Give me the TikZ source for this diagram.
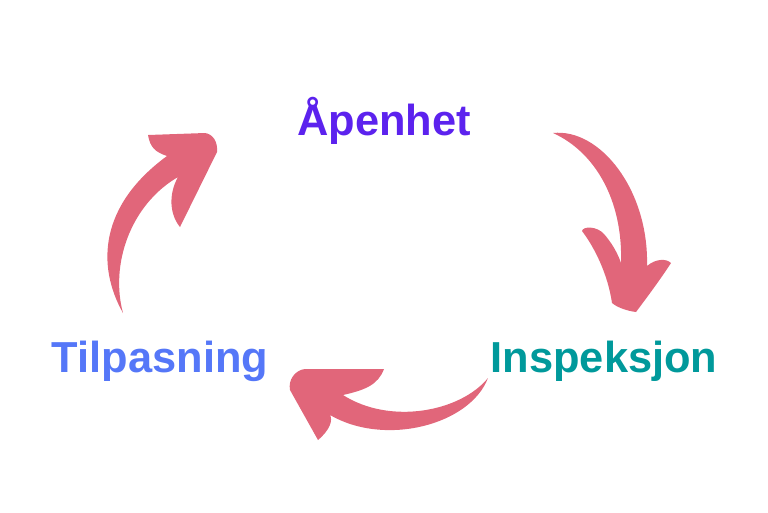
\documentclass[tikz,border=0pt]{standalone}
\usepackage{fontspec}
\setmainfont{Liberation Sans}
\definecolor{brushpink}{HTML}{E1667A}
\definecolor{openpurple}{HTML}{5C22EE}
\definecolor{inspteal}{HTML}{00999B}
\definecolor{adaptblue}{HTML}{5577F8}
\begin{document}
\begin{tikzpicture}[
        x=0.02cm, y=-0.02cm,
        word/.style={anchor=base, inner sep=0pt, font=\fontsize{24.7}{30}\selectfont\bfseries},
        brush/.style={fill=brushpink, draw=none}
    ]
        \useasboundingbox (0,0) rectangle (768,512);

        \node[word, text=openpurple] (aapenhet) at (384,135) {Åpenhet};
        \node[word, text=inspteal] (inspeksjon) at (604,372) {Inspeksjon};
        \node[word, text=adaptblue] (tilpasning) at (160,372) {Tilpasning};

        % Åpenhet -> Inspeksjon
        \fill[brush] (553,133) .. controls (600,128) and (649,190) .. (647,266)
            .. controls (655,259) and (666,258) .. (671,263)
            .. controls (660,280) and (645,300) .. (636,312)
            .. controls (628,311) and (618,308) .. (612,303)
            .. controls (608,275) and (595,248) .. (582,231)
            .. controls (583,226) and (597,226) .. (604,234)
            .. controls (612,243) and (618,254) .. (621,263)
            .. controls (623,200) and (595,152) .. (553,133) -- cycle;

        % Inspeksjon -> Tilpasning
        \fill[brush] (488,378) .. controls (470,425) and (385,447) .. (330,415)
            .. controls (333,420) and (330,430) .. (318,440)
            -- (290,390)
            .. controls (288,380) and (295,370) .. (305,369)
            -- (384,369)
            .. controls (378,385) and (365,390) .. (343,395)
            .. controls (390,425) and (460,412) .. (488,378) -- cycle;

        % Tilpasning -> Åpenhet
        \fill[brush] (123,313) .. controls (96,265) and (100,205) .. (167,156)
            .. controls (155,152) and (150,147) .. (148,135)
            -- (205,133)
            .. controls (213,134) and (218,142) .. (217,152)
            -- (180,227)
            .. controls (170,215) and (168,195) .. (178,177)
            .. controls (130,205) and (110,265) .. (123,313) -- cycle;
    \end{tikzpicture}
\end{document}
